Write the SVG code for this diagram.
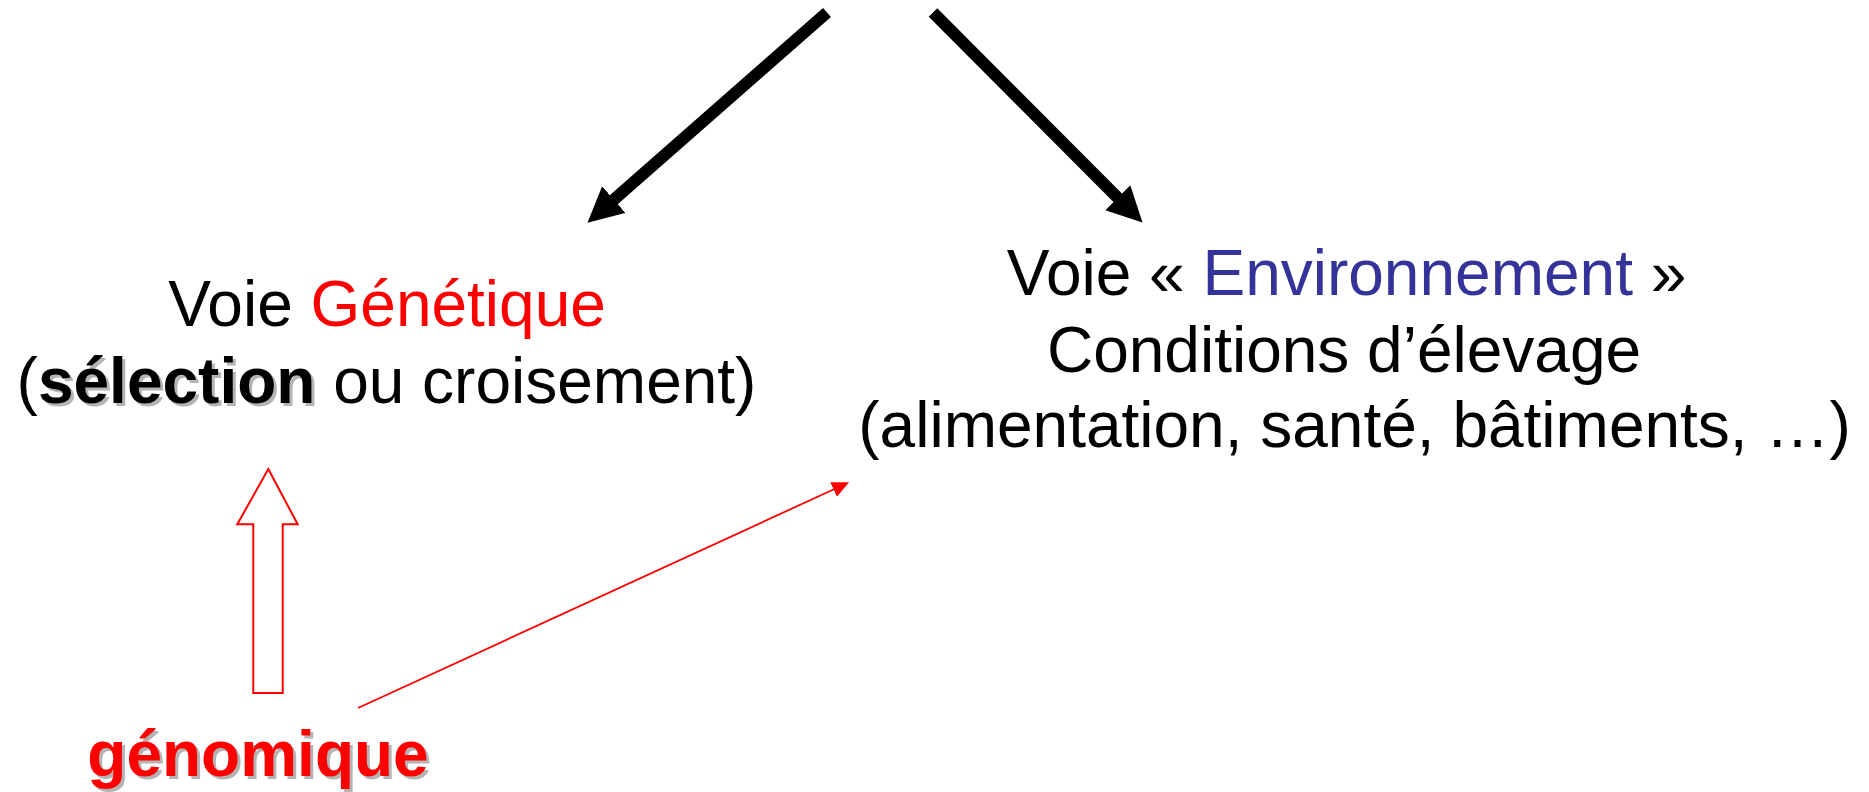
<svg xmlns="http://www.w3.org/2000/svg" width="1869" height="792" viewBox="0 0 1869 792">
<style>
.t{font-family:"Liberation Sans",Arial,sans-serif;font-size:64px;fill:#000;text-anchor:middle}
.b{font-weight:bold}
.red{fill:#ff0000}
.blue{fill:#333399}
.sh{fill:#b4b4b4}
.hide{fill:none}
.big{stroke:#000;stroke-width:12;fill:none}
.thin{stroke:#ff0000;stroke-width:1.8;fill:none}
</style>
<defs>
<marker id="headBlack" markerUnits="userSpaceOnUse" markerWidth="40" markerHeight="40" refX="2" refY="17.7" orient="auto">
<path d="M0,0 L35,17.7 L0,35.4 Z" fill="#000"/>
</marker>
<marker id="headRed" markerUnits="userSpaceOnUse" markerWidth="20" markerHeight="20" refX="1" refY="8" orient="auto">
<path d="M0,0 L17,8 L0,16 Z" fill="#ff0000"/>
</marker>
</defs>
<g id="connectors">
<line class="big" x1="827" y1="12.5" x2="612.3" y2="200.9" marker-end="url(#headBlack)"/>
<line class="big" x1="933" y1="12.5" x2="1119.2" y2="199.2" marker-end="url(#headBlack)"/>
<line class="thin" x1="358" y1="708" x2="834.5" y2="489" marker-end="url(#headRed)"/>
<polygon id="block-arrow" points="268.3,469 297.7,524.3 282.7,524.3 282.7,693 253.3,693 253.3,524.3 237.3,524.3" fill="#fff" stroke="#ff0000" stroke-width="2"/>
</g>
<g id="node-genetique">
<text class="t" x="387" y="326">Voie <tspan class="red">Génétique</tspan></text>
<text class="t" x="389.5" y="406"><tspan class="hide">(</tspan><tspan class="b sh">sélection</tspan><tspan class="hide"> ou croisement)</tspan></text>
<text class="t" x="386.5" y="403">(<tspan class="b">sélection</tspan> ou croisement)</text>
</g>
<g id="node-environnement">
<text class="t" x="1346.5" y="295">Voie « <tspan class="blue">Environnement</tspan> »</text>
<text class="t" x="1344" y="371.5">Conditions d’élevage</text>
<text class="t" x="1354.5" y="446.5">(alimentation, santé, bâtiments, …)</text>
</g>
<g id="node-genomique">
<text class="t b sh" x="261" y="779" style="font-size:64px">génomique</text>
<text class="t b red" x="258" y="776" style="font-size:64px">génomique</text>
</g>
</svg>
